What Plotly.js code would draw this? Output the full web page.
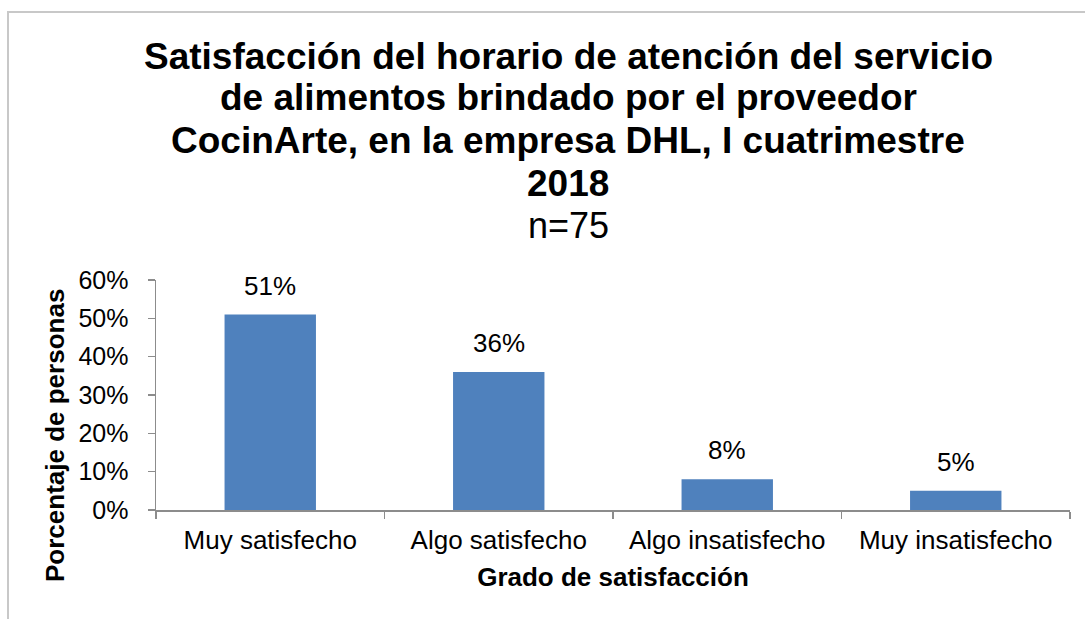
<!DOCTYPE html>
<html>
<head>
<meta charset="utf-8">
<script src="https://cdn.plot.ly/plotly-3.0.1.min.js"></script>
<style>
html,body{margin:0;padding:0;overflow:hidden;background:#fff}
#frame{position:absolute;left:7px;top:11px;width:2000px;height:2000px;border-left:2px solid #c8c8c8;border-top:2px solid #c8c8c8;pointer-events:none}
</style>
</head>
<body>
<div id="chart" style="width:1085px;height:619px"></div>
<div id="frame"></div>
<script>
const categories = ["Muy satisfecho", "Algo satisfecho", "Algo insatisfecho", "Muy insatisfecho"];
const values = [0.51, 0.36, 0.08, 0.05];
const yTicks = [0, 0.1, 0.2, 0.3, 0.4, 0.5, 0.6];
const titleLines = [
  "Satisfacción del horario de atención del servicio",
  "de alimentos brindado por el proveedor",
  "CocinArte, en la empresa DHL, I cuatrimestre",
  "2018"
];
const subtitle = "n=75";
const xTitle = "Grado de satisfacción";
const yTitle = "Porcentaje de personas";

const FONT = "Liberation Sans, Arial, sans-serif";

// plot area geometry (pixels)
const PL = 156, PR = 1070, PT = 280, PB = 510;
const PH = PB - PT, PW = PR - PL;
const py = p => (PB - p) / PH;   // pixel y -> paper y
const px = p => (p - PL) / PW;   // pixel x -> paper x

const trace = {
  type: "bar",
  x: categories,
  y: values,
  marker: {color: "#4F81BD"},
  hoverinfo: "x+y"
};

const annotations = [];
const baselines = [68, 110, 152, 195, 237];
titleLines.concat([subtitle]).forEach((t, i) => {
  const bold = i < titleLines.length;
  annotations.push({
    xref: "paper", yref: "paper",
    x: px(568), y: py(baselines[i] - 12),
    xanchor: "center", yanchor: "middle",
    text: bold ? "<b>" + t + "</b>" : t,
    showarrow: false,
    font: {family: FONT, size: bold ? 37 : 36, color: "#000"}
  });
});
categories.forEach((c, i) => {
  annotations.push({
    xref: "x", yref: "y",
    x: c, y: values[i],
    xanchor: "center", yanchor: "bottom", yshift: 12,
    text: Math.round(values[i] * 100) + "%",
    showarrow: false,
    font: {family: FONT, size: 26, color: "#000"}
  });
});
// y axis title
annotations.push({
  xref: "paper", yref: "paper",
  x: px(55), y: py(436),
  xanchor: "center", yanchor: "middle",
  textangle: -90,
  text: "<b>" + yTitle + "</b>",
  showarrow: false,
  font: {family: FONT, size: 26, color: "#000"}
});

const layout = {
  width: 1085,
  height: 619,
  paper_bgcolor: "#fff",
  plot_bgcolor: "#fff",
  margin: {l: PL, r: 1085 - PR, t: PT, b: 619 - PB},
  showlegend: false,
  bargap: 0.6,
  font: {family: FONT, color: "#000"},
  annotations: annotations,
  xaxis: {
    type: "category",
    showline: true, linecolor: "#8c8c8c", linewidth: 1.5,
    ticks: "outside", tickson: "boundaries", ticklen: 7, tickcolor: "#8c8c8c", tickwidth: 1.5,
    tickfont: {family: FONT, size: 26, color: "#000"},
    ticklabelstandoff: 6,
    showgrid: false, zeroline: false,
    title: {text: "<b>" + xTitle + "</b>", font: {family: FONT, size: 26, color: "#000"}, standoff: 14}
  },
  yaxis: {
    range: [0, 0.6],
    tickvals: yTicks,
    tickformat: ".0%",
    showline: true, linecolor: "#8c8c8c", linewidth: 1.5,
    ticks: "outside", ticklen: 7, tickcolor: "#8c8c8c", tickwidth: 1.5,
    tickfont: {family: FONT, size: 25, color: "#000"},
    ticklabelstandoff: 14,
    showgrid: false, zeroline: false
  }
};

Plotly.newPlot("chart", [trace], layout, {displayModeBar: false, staticPlot: true});
</script>
</body>
</html>
